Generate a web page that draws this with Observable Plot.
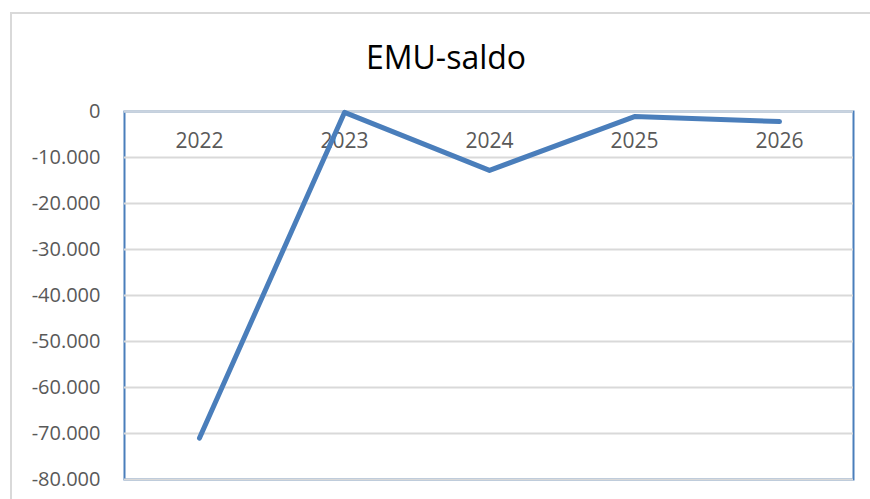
<!DOCTYPE html>
<html>
<head>
<meta charset="utf-8">
<script src="https://cdn.jsdelivr.net/npm/d3@7"></script>
<script src="https://cdn.jsdelivr.net/npm/@observablehq/plot@0.6"></script>
<style>
  html, body { margin: 0; padding: 0; background: #fff; }
  #wrap { position: relative; width: 870px; height: 499px; overflow: hidden; background: #fff; font-family: "Open Sans", sans-serif; }
  #border { position: absolute; left: 10px; top: 12px; width: 900px; height: 600px; border: 2px solid #d9d9d9; box-sizing: border-box; }
  #title { position: absolute; left: 0; top: 0; width: 892px; height: 90px; text-align: center; line-height: 114px; font-size: 32px; color: #000; }
  #chart { position: absolute; left: 0; top: 90px; }
</style>
</head>
<body>
<div id="wrap">
  <div id="border"></div>
  <div id="title">EMU-saldo</div>
  <div id="chart"></div>
</div>
<script>
const years = ["2022", "2023", "2024", "2025", "2026"];
const saldo = [-71000, -200, -12800, -1100, -2200];
const yTicks = [0, -10000, -20000, -30000, -40000, -50000, -60000, -70000, -80000];

const data = years.map((y, i) => ({year: y, value: saldo[i]}));
const nl = d3.formatLocale({decimal: ",", thousands: ".", grouping: [3], currency: ["", ""], minus: "-"});
const fmt = nl.format(",d");

const plot = Plot.plot({
  width: 870,
  height: 409,
  marginTop: 21,
  marginBottom: 20,
  marginLeft: 124,
  marginRight: 17,
  style: {fontFamily: "'Open Sans', sans-serif", fontSize: "20px", color: "#595959", background: "transparent"},
  x: {type: "point", domain: years, padding: 0.5, axis: null},
  y: {domain: [-80000, 0], axis: null},
  marks: [
    Plot.frame({stroke: "#4a7ebb", strokeWidth: 2}),
    Plot.gridY(yTicks, {stroke: "#d9d9d9", strokeOpacity: 1, strokeWidth: 2}),
    Plot.ruleY([0], {stroke: "#c9d3e0", strokeWidth: 2}),
    Plot.axisY(yTicks, {tickSize: 0, tickPadding: 24, label: null, tickFormat: fmt, fill: "#595959", fontSize: 20}),
    Plot.text(years, {x: d => d, y: () => 0, dy: 30, text: d => d, fill: "#595959", fontSize: 21}),
    Plot.line(data, {x: "year", y: "value", stroke: "#4a7ebb", strokeWidth: 5, strokeLinecap: "round", strokeLinejoin: "round"})
  ]
});
document.getElementById("chart").appendChild(plot);
</script>
</body>
</html>
